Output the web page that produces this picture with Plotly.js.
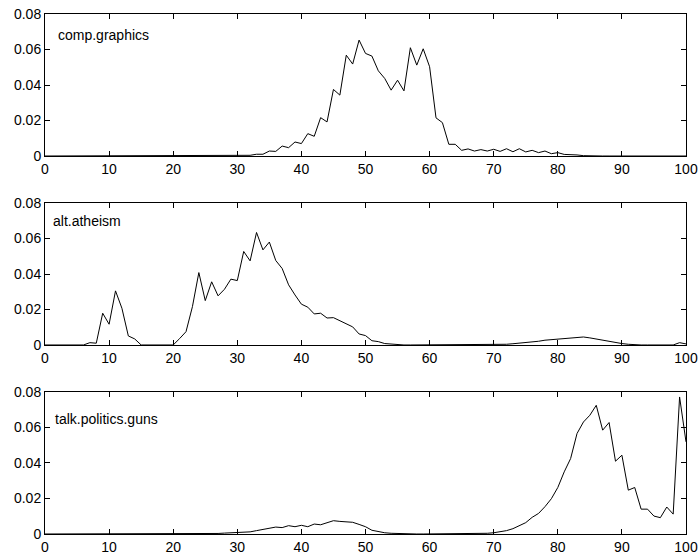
<!DOCTYPE html>
<html>
<head>
<meta charset="utf-8">
<script src="https://cdn.plot.ly/plotly-3.0.1.min.js"></script>
<style>html,body{margin:0;padding:0;background:#fff;}#plot{width:698px;height:555px;}</style>
</head>
<body>
<div id="plot"></div>
<script>
const xs = Array.from({length: 101}, (_, i) => i);
const categories = ["comp.graphics", "alt.atheism", "talk.politics.guns"];

const graphics = [
  0,0,0,0,0,0,0,0,0,0, 0,0,0,0,0,0,0,0,0,0, 0,0,0,0,0,0,0,0,0,0, 0,
  0.0002,0.0004,0.001,0.001,0.0028,0.0026,0.0056,0.0047,0.0079,
  0.007,0.0126,0.0111,0.0216,0.0192,0.0375,0.0343,0.0568,0.0518,0.0653,
  0.0578,0.0563,0.048,0.0437,0.0371,0.0427,0.0367,0.061,0.0512,0.0604,
  0.0503,0.0215,0.0188,0.0066,0.0066,0.0032,0.004,0.0028,0.0036,0.0028,
  0.0038,0.0026,0.0041,0.0024,0.0041,0.0023,0.0032,0.0019,0.0028,0.0013,
  0.0019,0.0009,0.0009,0.0006,0.0002,
  0,0,0,0,0,0,0,0,0,0,0,0,0,0,0,0
];

const atheism = [
  0,0,0,0,0,0,0,
  0.0013,0.001,0.0179,0.0117,0.0305,0.0207,0.0051,0.0034,0,
  0,0,0,0,0,
  0.0036,0.0075,0.0216,0.0408,0.025,0.0356,0.0277,0.0314,0.0371,0.0363,
  0.0527,0.0474,0.0634,0.0536,0.058,0.0476,0.0431,0.0339,0.0282,0.023,
  0.0213,0.0175,0.0179,0.0152,0.0154,0.0137,0.0119,0.0102,0.0062,0.0053,
  0.0024,0.0019,0.0008,0.0004,
  0,0,0,0,0,0,0,0,0,0,0,0,0,0,0,0,
  0.0002,0.0004,0.0007,0.001,0.0013,0.0018,0.0021,0.0027,0.003,0.0036,
  0.004,0.0043,0.0044,0.0045,0.004,0.0033,0.0028,0.0022,0.0016,0.0008,
  0.0004,0.0001,
  0,0,0,0,0,0,
  0.0013,0.0006
];

const guns = [
  0,0,0,0,0,0,0,0,0,0, 0,0,0,0,0,0,0,0,0,0, 0,0,0,0,0,
  0.0001,0.0002,0.0003,0.0005,0.0007,0.001,0.0013,0.0012,0.0019,0.0026,
  0.003,0.0039,0.0036,0.0047,0.0041,0.0049,0.0041,0.0056,0.0052,0.0062,
  0.0075,0.0071,0.007,0.0066,0.0054,0.0041,0.0021,0.0013,0.0007,0.0004,
  0.0002,
  0,0,0,0,0,0,0,0,0,0,0,0,
  0.0002,0.0004,0.0007,0.0011,0.0019,0.003,0.0047,0.0064,0.0094,0.0116,
  0.0154,0.0199,0.0262,0.035,0.0425,0.0566,0.0631,0.0669,0.0725,0.0585,
  0.0628,0.041,0.0444,0.0247,0.0262,0.014,0.014,0.0101,0.0092,0.0152,
  0.0112,0.0772,0.0519
];

const series = [graphics, atheism, guns];
const xTicks = [0,10,20,30,40,50,60,70,80,90,100];
const yTicks = [0,0.02,0.04,0.06,0.08];
const yTickText = ["0","0.02","0.04","0.06","0.08"];

const font = {family: "Liberation Sans, Arial, sans-serif", size: 14, color: "#000"};
const domains = [[0.7269,1],[0.3635,0.6365],[0,0.2731]];
const labelPos = [[1.7,0.068],[0.9,0.0696],[1.3,0.0646]];

const traces = [];
const layout = {
  width: 698, height: 555,
  margin: {l: 45, r: 12, t: 14, b: 21},
  paper_bgcolor: "#fff", plot_bgcolor: "#fff",
  showlegend: false,
  font: font,
  annotations: []
};

series.forEach((ys, i) => {
  const n = i === 0 ? "" : String(i + 1);
  traces.push({x: xs, y: ys, type: "scatter", mode: "lines",
    xaxis: "x" + n, yaxis: "y" + n,
    line: {color: "#000", width: 1}, hoverinfo: "skip"});
  const axCommon = {showline: true, linecolor: "#000", linewidth: 1, mirror: "ticks",
    ticks: "inside", ticklen: 5, tickcolor: "#000", tickwidth: 1,
    showgrid: false, zeroline: false, tickfont: font};
  layout["xaxis" + n] = Object.assign({}, axCommon, {
    range: [0, 100], tickvals: xTicks, anchor: "y" + n, domain: [0, 1]});
  layout["yaxis" + n] = Object.assign({}, axCommon, {
    range: [0, 0.08], tickvals: yTicks, ticktext: yTickText, anchor: "x" + n, domain: domains[i]});
  layout.annotations.push({text: categories[i], x: labelPos[i][0], y: labelPos[i][1],
    xref: "x" + n, yref: "y" + n, xanchor: "left", yanchor: "middle",
    showarrow: false, font: font});
});

Plotly.newPlot("plot", traces, layout, {staticPlot: true});
</script>
</body>
</html>
